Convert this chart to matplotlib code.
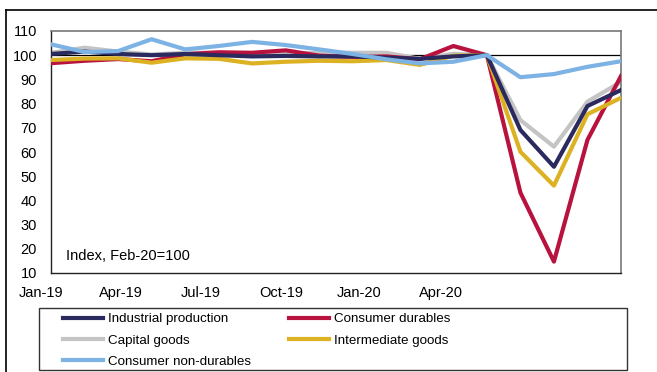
import numpy as np
import matplotlib.pyplot as plt
import matplotlib.transforms as mtransforms
from matplotlib.lines import Line2D
from matplotlib.patches import Rectangle

plt.rcParams['font.family'] = ['Liberation Sans', 'DejaVu Sans']

# monthly index, Jan-19 .. Jun-20 (Feb-20 = 100)
months = ['Jan-19', 'Feb-19', 'Mar-19', 'Apr-19', 'May-19', 'Jun-19', 'Jul-19', 'Aug-19', 'Sep-19',
          'Oct-19', 'Nov-19', 'Dec-19', 'Jan-20', 'Feb-20', 'Mar-20', 'Apr-20', 'May-20', 'Jun-20']
industrial = [100.5, 101.5, 100.5, 100.0, 100.5, 100.0, 99.5, 99.7, 99.5, 99.5, 99.0, 98.5,
              99.5, 100.0, 69.1, 53.9, 79.0, 85.6]
durables = [96.7, 97.7, 98.4, 97.5, 100.4, 101.2, 101.0, 102.0, 99.8, 99.3, 99.5, 98.3,
            103.8, 100.0, 43.2, 14.7, 65.0, 91.4]
capital = [101.0, 103.1, 101.5, 100.3, 101.0, 101.0, 100.5, 100.5, 101.0, 101.0, 101.0, 98.5,
           100.6, 100.0, 73.2, 62.2, 80.8, 89.0]
intermediate = [98.0, 98.6, 98.7, 96.9, 98.7, 98.5, 96.6, 97.3, 97.7, 97.5, 98.0, 96.0,
                99.8, 100.0, 60.1, 46.1, 75.6, 82.4]
non_durables = [104.5, 101.3, 101.7, 106.6, 102.4, 103.8, 105.5, 104.2, 102.4, 100.5, 98.3, 96.6,
                97.3, 100.0, 90.9, 92.2, 95.2, 97.5]

tick_labels = ['Jan-19', 'Apr-19', 'Jul-19', 'Oct-19', 'Jan-20', 'Apr-20']
tick_pos = [-0.30, 2.09, 4.48, 6.87, 9.19, 11.64]

fig = plt.figure(figsize=(6.57, 3.72), dpi=100)
ax = fig.add_axes([51 / 657, 1 - 273 / 372, 570 / 657, 242 / 372])

x = np.arange(len(months))
ax.axhline(100, color='black', lw=0.9, zorder=1)
lw = 3.0
l_ip, = ax.plot(x, industrial, color='#2b2a5e', lw=lw, label='Industrial production', zorder=4)
l_cd, = ax.plot(x, durables, color='#b8123f', lw=lw, label='Consumer durables', zorder=3)
l_cg, = ax.plot(x, capital, color='#c4c4c4', lw=lw, label='Capital goods', zorder=2)
l_ig, = ax.plot(x, intermediate, color='#dcb222', lw=lw, label='Intermediate goods', zorder=3)
l_nd, = ax.plot(x, non_durables, color='#7db3e4', lw=lw, label='Consumer non-durables', zorder=5)

ax.set_xlim(0, len(months) - 1)
ax.set_ylim(10, 110)
ax.set_yticks(range(10, 111, 10))
ax.set_xticks([])
ax.tick_params(axis='y', length=0, labelsize=10.5, colors='black', pad=10)

# month labels under the axis
trans = mtransforms.blended_transform_factory(ax.transData, ax.transAxes)
for pos, lab in zip(tick_pos, tick_labels):
    ax.text(pos, -20 / 242, lab, transform=trans, ha='center', va='center',
            fontsize=10.5, clip_on=False)

for side in ['left', 'bottom']:
    ax.spines[side].set_color('#222222')
    ax.spines[side].set_linewidth(1.0)
for side in ['top', 'right']:
    ax.spines[side].set_color('#777777')
    ax.spines[side].set_linewidth(1.2)

ax.text(0.45, 17, 'Index, Feb-20=100', fontsize=10.5, va='center', ha='left')

# legend, filled column by column
handles = [l_ip, l_cg, l_nd, l_cd, l_ig]
leg = fig.legend(handles=handles, labels=[h.get_label() for h in handles], ncol=2,
                 loc='upper left', bbox_to_anchor=(63 / 657, 1 - 313 / 372),
                 fontsize=9.6, frameon=False,
                 handlelength=3.0, handletextpad=0.35, labelspacing=0.68,
                 columnspacing=2.9, borderpad=0, borderaxespad=0)
for h in leg.legend_handles:
    h.set_linewidth(3)
fig.add_artist(Rectangle((39 / 657, 1 - 370 / 372), 588 / 657, 62 / 372,
                         transform=fig.transFigure, fill=False, edgecolor='#333333', lw=1.0))

# outer frame lines
fig.add_artist(Line2D([6 / 657, 1], [1 - 9.5 / 372, 1 - 9.5 / 372], color='black', lw=1.2))
fig.add_artist(Line2D([6 / 657, 6 / 657], [0, 1 - 9.5 / 372], color='black', lw=1.2))

fig.savefig('out.png', dpi=100)
